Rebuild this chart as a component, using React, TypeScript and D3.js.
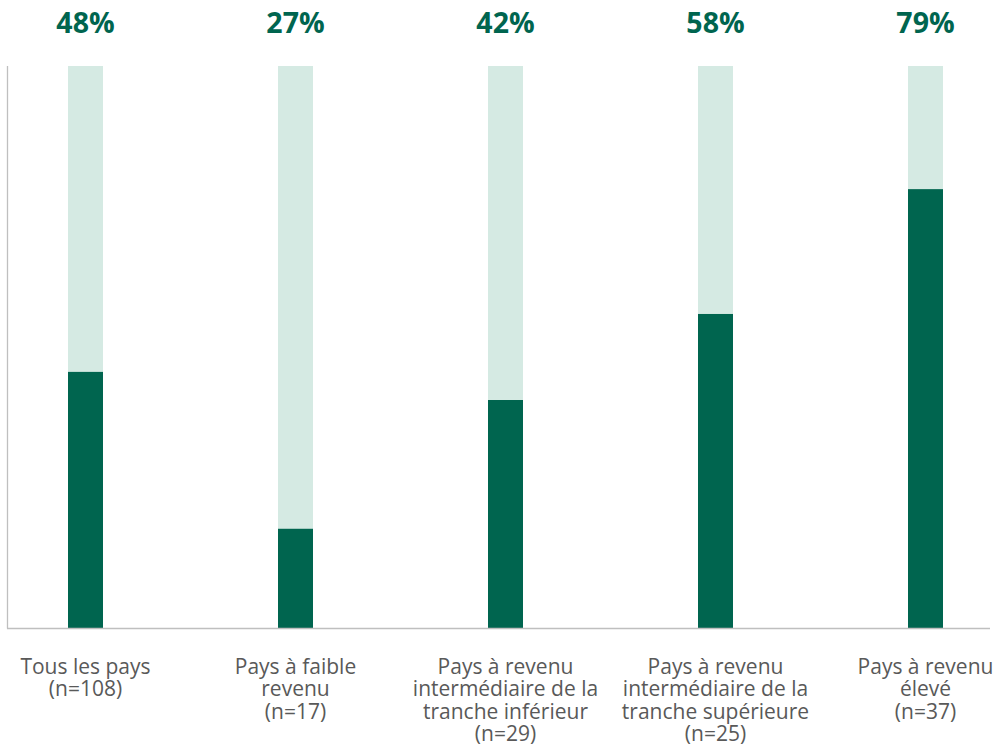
import React from "react";
import * as d3 from "d3";

const categories: string[][] = [
  ["Tous les pays", "(n=108)"],
  ["Pays à faible", "revenu", "(n=17)"],
  ["Pays à revenu", "intermédiaire de la", "tranche inférieur", "(n=29)"],
  ["Pays à revenu", "intermédiaire de la", "tranche supérieure", "(n=25)"],
  ["Pays à revenu", "élevé", "(n=37)"],
];
const keys = ["all", "low", "lowerMid", "upperMid", "high"];
const darkValues = [45.6, 17.7, 40.6, 55.9, 78.1];
const totalValues = [100, 100, 100, 100, 100];
const topLabels = ["48%", "27%", "42%", "58%", "79%"];

const W = 1000;
const H = 749;
const DARK = "#00654f";
const LIGHT = "#d5eae3";
const FONT = "'Open Sans', 'Noto Sans', sans-serif";

export default function App() {
  const x = d3.scalePoint<string>().domain(keys).range([85.5, 925.5]);
  const y = d3.scaleLinear().domain([0, 100]).range([628.3, 66]);
  const bw = 35;

  return (
    <svg
      width={W}
      height={H}
      style={{ position: "absolute", left: 0, top: 0, background: "#fff" }}
    >
      {keys.map((k, i) => {
        const cx = x(k)!;
        return (
          <g key={k}>
            <rect
              x={cx - bw / 2}
              y={y(totalValues[i])}
              width={bw}
              height={y(0) - y(totalValues[i])}
              fill={LIGHT}
            />
            <rect
              x={cx - bw / 2}
              y={y(darkValues[i])}
              width={bw}
              height={y(0) - y(darkValues[i])}
              fill={DARK}
            />
            <text
              x={cx}
              y={33}
              textAnchor="middle"
              fontFamily={FONT}
              fontWeight={700}
              fontSize={28.5}
              fill={DARK}
            >
              {topLabels[i]}
            </text>
            <text
              textAnchor="middle"
              fontFamily={FONT}
              fontSize={21}
              fill="#595959"
            >
              {categories[i].map((line, j) => (
                <tspan key={j} x={cx} y={674 + j * 22.3}>
                  {line}
                </tspan>
              ))}
            </text>
          </g>
        );
      })}
      <line x1={7.5} x2={7.5} y1={66} y2={628.5} stroke="#bfbfbf" strokeWidth={1.3} />
      <line x1={7} x2={990} y1={628.5} y2={628.5} stroke="#bfbfbf" strokeWidth={1.3} />
    </svg>
  );
}
